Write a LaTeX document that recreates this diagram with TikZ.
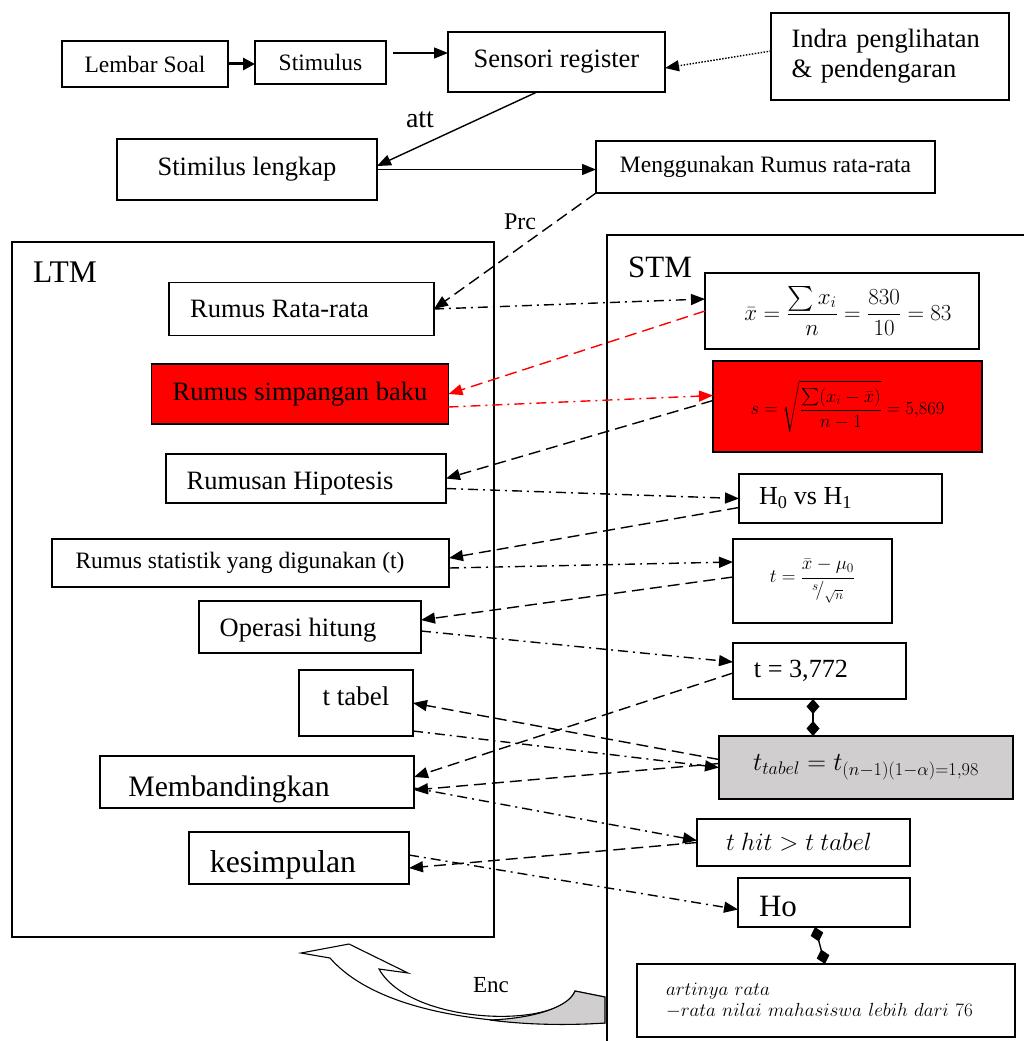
\RequirePackage{fix-cm}
\documentclass[tikz,border=0pt]{standalone}
\usepackage{amsmath}
\usepackage{fontspec}
\setmainfont{Liberation Serif}
\usetikzlibrary{arrows.meta,calc}
\definecolor{tgray}{RGB}{208,206,206}
\newcommand\fs[2]{\fontsize{#1}{#2}\selectfont}
\newcommand\dn[2]{\raisebox{-#1pt}[\height][\depth]{#2}}
\tikzset{
 bx/.style={draw, line width=1.5pt, fill=white, inner sep=0pt, outer sep=0pt, align=center},
 con/.style={line width=1.4pt, -{Triangle[length=14pt,width=11pt]}},
 dsh/.style={con, dash pattern=on 12pt off 6pt},
 dd/.style={con, dash pattern=on 10pt off 5pt on 2pt off 5pt},
 dia/.style={line width=1.4pt, {Diamond[length=15pt,width=13pt]}-{Diamond[length=15pt,width=13pt]}},
}
\begin{document}
\begin{tikzpicture}[x=1pt,y=-1pt]
\useasboundingbox (0,0) rectangle (1024,1041);

% containers
\node[draw, line width=1.5pt, minimum width=482, minimum height=695, inner sep=0pt, outer sep=0pt] (ltm) at (253,589.5) {};
\node[font=\fs{31.5}{36}, anchor=base west, inner sep=0pt] (ltmlabel) at (33,282) {LTM};

% Enc arrow
\filldraw[fill=white, line width=1.1pt, line join=miter] (605,1023) .. controls (500,1027) and (380,1015) .. (330,958) -- (301,953) -- (349,944) -- (408,973) -- (379,969) .. controls (410,1025) and (560,1030) .. (575,991) -- (605,997);
\filldraw[fill=tgray, line width=1.1pt] (575,991) -- (605,997) -- (605,1023) .. controls (560,1026) and (520,1024) .. (490,1020) .. controls (540,1018) and (570,1005) .. (575,991) -- cycle;
\node[font=\fs{23}{27}] (enc) at (491,985) {Enc};

\draw[line width=1.5pt] (1024,235) -- (607,235) -- (607,1041);
\node[font=\fs{31}{36}, anchor=base west, inner sep=0pt] (stmlabel) at (628,277) {STM};

% top boxes
\node[bx, minimum width=166, minimum height=46, font=\fs{23.5}{27}] (lembar) at (145,64) {Lembar Soal};
\node[bx, minimum width=131, minimum height=43, font=\fs{23.5}{27}] (stim) at (320.5,62.5) {Stimulus};
\node[bx, minimum width=217, minimum height=60, font=\fs{26.5}{30}] (sens) at (556.5,62) {Sensori register};
\node[bx, minimum width=238, minimum height=87, font=\fs{26.5}{30}, text width=197pt, align=left] (indra) at (890,56.5) {Indra penglihatan\\ \& pendengaran};
\node[bx, minimum width=260, minimum height=61, font=\fs{26.5}{30}] (lengkap) at (247,169.5) {Stimilus lengkap};
\node[bx, minimum width=339, minimum height=52, font=\fs{23.5}{27}] (meng) at (765.5,167) {Menggunakan Rumus rata-rata};

% LTM boxes
\node[bx, minimum width=265, minimum height=53, font=\fs{26.5}{30}] (rata) at (301.5,309) {Rumus Rata-rata\hspace*{44pt}};
\node[bx, fill=red, minimum width=297, minimum height=60, font=\fs{26.5}{30}] (simp) at (300,394) {Rumus simpangan baku};
\node[bx, minimum width=280, minimum height=49, font=\fs{26.5}{30}] (hip) at (306,478.5) {\dn{5}{Rumusan Hipotesis}\hspace*{32pt}};
\node[bx, minimum width=397, minimum height=48, font=\fs{23.5}{27}] (stat) at (250.5,563) {Rumus statistik yang digunakan (t)\hspace*{21pt}};
\node[bx, minimum width=222, minimum height=52, font=\fs{26.5}{30}] (oper) at (310,627) {\dn{3}{Operasi hitung}\hspace*{24pt}};
\node[bx, minimum width=114, minimum height=66, font=\fs{27}{31}] (ttab) at (356,703) {\dn{-7}{t tabel}};
\node[bx, minimum width=314, minimum height=52, font=\fs{29.7}{34}] (memb) at (257,782) {\dn{7}{Membandingkan}\hspace*{56pt}};
\node[bx, minimum width=220, minimum height=52, font=\fs{31.7}{36}] (kes) at (299,858) {\dn{7}{kesimpulan}\hspace*{32pt}};

% STM boxes
\node[bx, minimum width=274, minimum height=76, font=\fs{23}{27}] (xbar) at (842,311) {\hspace*{12pt}$\displaystyle \bar{x} = \frac{\textstyle\sum x_i}{n} = \frac{830}{10} = 83$};
\node[bx, fill=red, minimum width=269, minimum height=91, font=\fs{18.5}{22}] (sform) at (847.5,406.5) {$\displaystyle s = \sqrt{\frac{\textstyle\sum(x_i-\bar{x})}{n-1}} = 5{,}869$};
\node[bx, minimum width=203, minimum height=49, font=\fs{26}{30}] (hh) at (840.5,498.5) {H\textsubscript{0} vs H\textsubscript{1}\hspace*{70pt}};
\node[bx, minimum width=159, minimum height=84, font=\fs{19}{22}] (tform) at (812.5,581) {$\displaystyle t = \frac{\bar{x}-\mu_0}{{}^{s}\!/_{\sqrt{n}}}$};
\node[bx, minimum width=173, minimum height=56, font=\fs{26.2}{30}] (t3772) at (819.5,671) {t = 3,772\hspace*{37pt}};
\node[bx, fill=tgray, minimum width=294, minimum height=63, font=\fs{26}{30}] (ttabel) at (866,767.5) {$t_{tabel} = t_{(n-1)(1-\alpha)=1{,}98}$};
\node[bx, minimum width=213, minimum height=47, font=\fs{25}{29}] (thit) at (803.5,842.5) {$t\ hit > t\ tabel$\hspace*{9pt}};
\node[bx, minimum width=172, minimum height=49, font=\fs{31}{36}] (ho) at (824,902.5) {\dn{4}{Ho}\hspace*{92pt}};
\node[bx, minimum width=378, minimum height=73, font=\fs{19}{21}, text width=320pt, align=left] (arti) at (826,1000.5) {$artinya\ rata$\\$-rata\ nilai\ mahasiswa\ lebih\ dari\ 76$};

% labels
\node[font=\fs{28}{32}] (att) at (420,120) {att};
\node[font=\fs{24}{28}] (prc) at (520,222) {Prc};

% connectors
\draw[line width=3pt, -{Triangle[length=12pt,width=12pt]}] (lembar.east) -- (lembar.east -| stim.west);
\coordinate (s0) at (393,53);
\draw[con] (s0) -- (s0 -| sens.west);
\draw[line width=1.4pt, dash pattern=on 1.5pt off 1.5pt, -{Triangle[length=14pt,width=11pt]}] ($(indra.west)+(0,-5.5)$) -- ($(sens.east)+(0,6)$);
\draw[con] ($(sens.south)+(-19.5,0)$) -- ($(lengkap.east)+(0,-3.5)$);
\draw[con] (lengkap.east) -- (lengkap.east -| meng.west);
\draw[dsh] (meng.south west) -- (rata.east);
\draw[dd] (rata.east) -- ($(xbar.west)+(0,-12)$);
\draw[dsh, red] (xbar.west) -- (simp.east);
\draw[dd, red] ($(simp.east)+(0,13)$) -- ($(sform.west)+(0,-11)$);
\draw[dsh] ($(sform.west)+(0,-6)$) -- (hip.east);
\draw[dd] ($(hip.east)+(0,10)$) -- (hh.west);
\draw[dsh] ($(hh.west)+(0,9)$) -- ($(stat.east)+(0,-5)$);
\draw[dd] ($(stat.east)+(0,5)$) -- ($(tform.west)+(0,-19)$);
\draw[dsh] ($(tform.west)+(0,-4)$) -- ($(oper.east)+(0,-7)$);
\draw[dd] ($(oper.east)+(0,4)$) -- ($(t3772.west)+(0,-9)$);
\draw[dsh] ($(t3772.west)+(0,2)$) -- ($(memb.east)+(0,-5)$);
\draw[dsh] ($(ttabel.west)+(0,-8)$) -- (ttab.east);
\draw[dd] ($(ttab.east)+(0,28)$) -- (ttabel.west);
\draw[dsh] ($(ttabel.west)+(0,-4)$) -- ($(memb.east)+(0,8)$);
\draw[dd] ($(memb.east)+(0,6)$) -- ($(thit.west)+(0,-2)$);
\draw[dsh] (thit.west) -- ($(kes.east)+(0,10)$);
\draw[dd] ($(kes.east)+(0,-3)$) -- ($(ho.west)+(0,7)$);
\coordinate (d1) at ($(t3772.south)+(-6.5,0)$);
\draw[dia] (d1) -- (d1 |- ttabel.north);
\draw[dia] ($(ho.south)+(-9,0)$) -- ($(arti.north)+(-1,0)$);
\end{tikzpicture}
\end{document}
